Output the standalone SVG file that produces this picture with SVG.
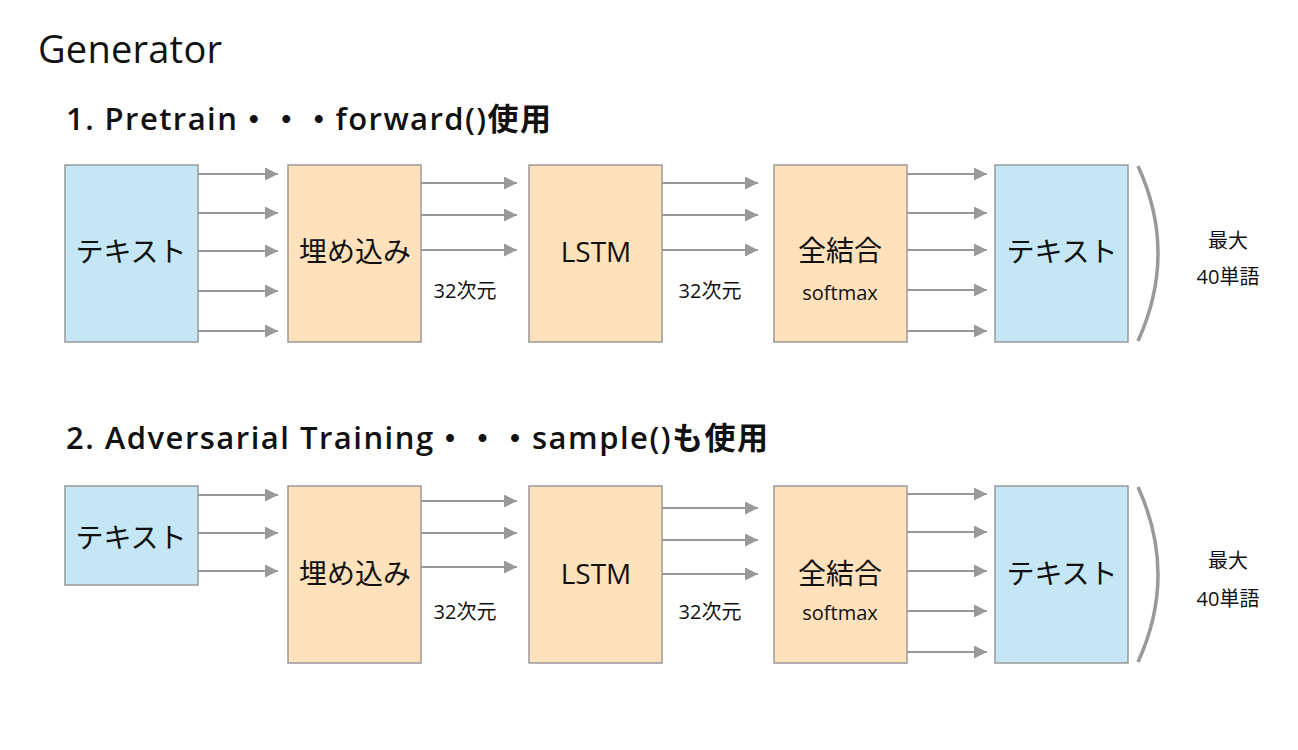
<svg xmlns="http://www.w3.org/2000/svg" width="1298" height="750" viewBox="0 0 1298 750">
<style>
text{font-family:"Open Sans","Noto Sans CJK JP",sans-serif;fill:#111}
.h{font-weight:600}
.blue{fill:#C4E6F5;stroke:#999;stroke-width:1.5}
.orange{fill:#FFE1BC;stroke:#999;stroke-width:1.5}
.lbl{font-size:28px;text-anchor:middle;dominant-baseline:central}
.sm{font-size:20px;text-anchor:middle;dominant-baseline:central}
.ar{stroke:#999;stroke-width:2;fill:none;marker-end:url(#ah)}
.br{stroke:#999;stroke-width:3.5;fill:none}
</style>
<defs>
<marker id="ah" markerUnits="userSpaceOnUse" markerWidth="14" markerHeight="14" refX="13" refY="6.5" orient="auto">
<path d="M0,0 L13,6.5 L0,13 Z" fill="#999"/>
</marker>
</defs>
<rect width="1298" height="750" fill="#fff"/>
<text x="38" y="63" font-size="38" textLength="184">Generator</text>
<text class="h" x="66" y="130" font-size="31" textLength="485">1. Pretrain・・・forward()使用</text>
<text class="h" x="66" y="449" font-size="31" textLength="702">2. Adversarial Training・・・sample()も使用</text>

<g id="connectors">
<line class="ar" x1="198" y1="174" x2="278" y2="174"/>
<line class="ar" x1="198" y1="213" x2="278" y2="213"/>
<line class="ar" x1="198" y1="251" x2="278" y2="251"/>
<line class="ar" x1="198" y1="291" x2="278" y2="291"/>
<line class="ar" x1="198" y1="331" x2="278" y2="331"/>
<line class="ar" x1="421" y1="183" x2="517" y2="183"/>
<line class="ar" x1="421" y1="215" x2="517" y2="215"/>
<line class="ar" x1="421" y1="250" x2="517" y2="250"/>
<line class="ar" x1="662" y1="183" x2="758" y2="183"/>
<line class="ar" x1="662" y1="215" x2="758" y2="215"/>
<line class="ar" x1="662" y1="250" x2="758" y2="250"/>
<line class="ar" x1="907" y1="174" x2="987" y2="174"/>
<line class="ar" x1="907" y1="213" x2="987" y2="213"/>
<line class="ar" x1="907" y1="250" x2="987" y2="250"/>
<line class="ar" x1="907" y1="290" x2="987" y2="290"/>
<line class="ar" x1="907" y1="331" x2="987" y2="331"/>

<line class="ar" x1="198" y1="495" x2="278" y2="495"/>
<line class="ar" x1="198" y1="533" x2="278" y2="533"/>
<line class="ar" x1="198" y1="571" x2="278" y2="571"/>
<line class="ar" x1="421" y1="501" x2="517" y2="501"/>
<line class="ar" x1="421" y1="533" x2="517" y2="533"/>
<line class="ar" x1="421" y1="567" x2="517" y2="567"/>
<line class="ar" x1="662" y1="508" x2="758" y2="508"/>
<line class="ar" x1="662" y1="540" x2="758" y2="540"/>
<line class="ar" x1="662" y1="574" x2="758" y2="574"/>
<line class="ar" x1="907" y1="494" x2="987" y2="494"/>
<line class="ar" x1="907" y1="532" x2="987" y2="532"/>
<line class="ar" x1="907" y1="571" x2="987" y2="571"/>
<line class="ar" x1="907" y1="611" x2="987" y2="611"/>
<line class="ar" x1="907" y1="652" x2="987" y2="652"/>
</g>

<g id="r1-text-in"><rect class="blue" x="65" y="165" width="133" height="177"/><text class="lbl" x="131" y="251">テキスト</text></g>
<g id="r1-embed"><rect class="orange" x="288" y="165" width="133" height="177"/><text class="lbl" x="355" y="251">埋め込み</text></g>
<g id="r1-dim1"><text class="sm" x="465" y="290">32次元</text></g>
<g id="r1-lstm"><rect class="orange" x="529" y="165" width="133" height="177"/><text class="lbl" x="596" y="251">LSTM</text></g>
<g id="r1-dim2"><text class="sm" x="710" y="290">32次元</text></g>
<g id="r1-fc"><rect class="orange" x="774" y="165" width="133" height="177"/><text class="lbl" x="840" y="250">全結合</text><text class="sm" x="840" y="292" font-size="21">softmax</text></g>
<g id="r1-text-out"><rect class="blue" x="995" y="165" width="133" height="177"/><text class="lbl" x="1062" y="251">テキスト</text></g>
<g id="r1-bracket"><path class="br" d="M1138,166 Q1178,253 1138,341"/><text class="sm" x="1228" y="240">最大</text><text class="sm" x="1228" y="276">40単語</text></g>

<g id="r2-text-in"><rect class="blue" x="65" y="486" width="133" height="99"/><text class="lbl" x="131" y="537">テキスト</text></g>
<g id="r2-embed"><rect class="orange" x="288" y="486" width="133" height="177"/><text class="lbl" x="355" y="573">埋め込み</text></g>
<g id="r2-dim1"><text class="sm" x="465" y="611">32次元</text></g>
<g id="r2-lstm"><rect class="orange" x="529" y="486" width="133" height="177"/><text class="lbl" x="596" y="573">LSTM</text></g>
<g id="r2-dim2"><text class="sm" x="710" y="611">32次元</text></g>
<g id="r2-fc"><rect class="orange" x="774" y="486" width="133" height="177"/><text class="lbl" x="840" y="573">全結合</text><text class="sm" x="840" y="612" font-size="21">softmax</text></g>
<g id="r2-text-out"><rect class="blue" x="995" y="486" width="133" height="177"/><text class="lbl" x="1062" y="573">テキスト</text></g>
<g id="r2-bracket"><path class="br" d="M1138,487 Q1178,575 1138,662"/><text class="sm" x="1228" y="560">最大</text><text class="sm" x="1228" y="598">40単語</text></g>
</svg>
